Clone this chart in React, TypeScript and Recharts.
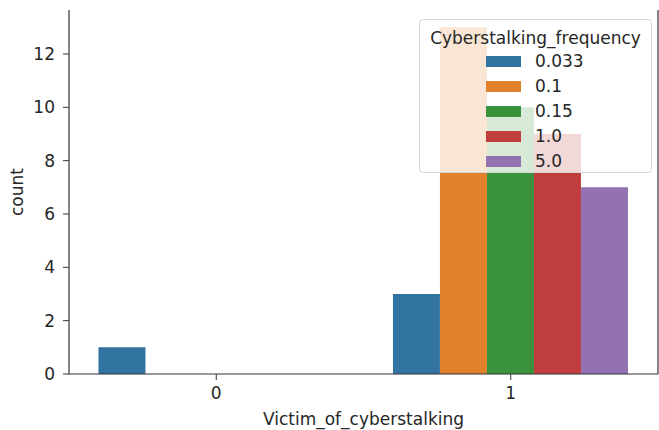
import React from "react";
import { BarChart, Bar, XAxis, YAxis, Legend } from "recharts";

const categories = ["0", "1"];
const hueLevels = ["0.033", "0.1", "0.15", "1.0", "5.0"];
const counts0 = [1, 0, 0, 0, 0];
const counts1 = [3, 13, 10, 9, 7];
const yTicks = [0, 2, 4, 6, 8, 10, 12];
const colors = ["#3274A1", "#E1812C", "#3A923A", "#C03D3E", "#9372B2"];

const rows = [counts0, counts1];
const data = categories.map((cat, i) => {
  const row: Record<string, string | number> = { cat };
  hueLevels.forEach((h, j) => {
    row["h" + j] = rows[i][j];
  });
  return row;
});

const FONT = "'DejaVu Sans', sans-serif";
const TEXT = "#262626";
const AXIS = "#333";

function LegendBox() {
  return (
    <div
      style={{
        background: "rgba(255,255,255,0.8)",
        border: "1px solid #d6d6d6",
        borderRadius: 4,
        width: 233,
        height: 154,
        boxSizing: "border-box",
        fontFamily: FONT,
        fontSize: 17,
        color: TEXT,
        position: "relative",
      }}
    >
      <div style={{ position: "absolute", top: 8, left: 0, width: "100%", textAlign: "center", lineHeight: "20px" }}>
        Cyberstalking_frequency
      </div>
      {hueLevels.map((h, j) => (
        <div key={h} style={{ position: "absolute", top: 31 + j * 25, left: 66, height: 20, display: "flex", alignItems: "center" }}>
          <span style={{ display: "inline-block", width: 35, height: 11, background: colors[j] }} />
          <span style={{ marginLeft: 14, lineHeight: "20px" }}>{h}</span>
        </div>
      ))}
    </div>
  );
}

export default function App() {
  return (
    <div style={{ position: "absolute", left: 0, top: 0, background: "#fff" }}>
      <BarChart
        width={659}
        height={430}
        data={data}
        margin={{ top: 10, right: 0, left: 0, bottom: 0 }}
        barCategoryGap="10%"
        barGap={0}
      >
        <XAxis
          dataKey="cat"
          height={56}
          tickSize={6}
          tickMargin={7}
          tickLine={{ stroke: AXIS }}
          axisLine={{ stroke: AXIS, strokeWidth: 1.2 }}
          tick={{ fill: TEXT, fontSize: 17, fontFamily: FONT }}
          label={{ value: "Victim_of_cyberstalking", position: "insideBottom", offset: 5, fill: TEXT, fontSize: 17, fontFamily: FONT }}
        />
        <XAxis xAxisId="top" dataKey="cat" orientation="top" height={0} tick={false} tickLine={false} axisLine={{ stroke: AXIS, strokeWidth: 1.2 }} />
        <YAxis
          width={69}
          domain={[0, 13.65]}
          ticks={yTicks}
          tickSize={6}
          tickMargin={8}
          tickLine={{ stroke: AXIS }}
          axisLine={{ stroke: AXIS, strokeWidth: 1.2 }}
          tick={{ fill: TEXT, fontSize: 17, fontFamily: FONT }}
          label={{ value: "count", angle: -90, position: "center", dx: -18, fill: TEXT, fontSize: 17, fontFamily: FONT }}
        />
        <YAxis yAxisId="right" orientation="right" width={1} domain={[0, 13.65]} tick={false} tickLine={false} axisLine={{ stroke: AXIS, strokeWidth: 1.2 }} />
        {hueLevels.map((h, j) => (
          <Bar key={h} dataKey={"h" + j} name={h} fill={colors[j]} isAnimationActive={false} />
        ))}
        <Legend
          layout="vertical"
          align="center"
          verticalAlign="middle"
          content={() => <LegendBox />}
          wrapperStyle={{ position: "absolute", top: 19, left: 419, width: 233, height: 154 }}
        />
      </BarChart>
    </div>
  );
}
